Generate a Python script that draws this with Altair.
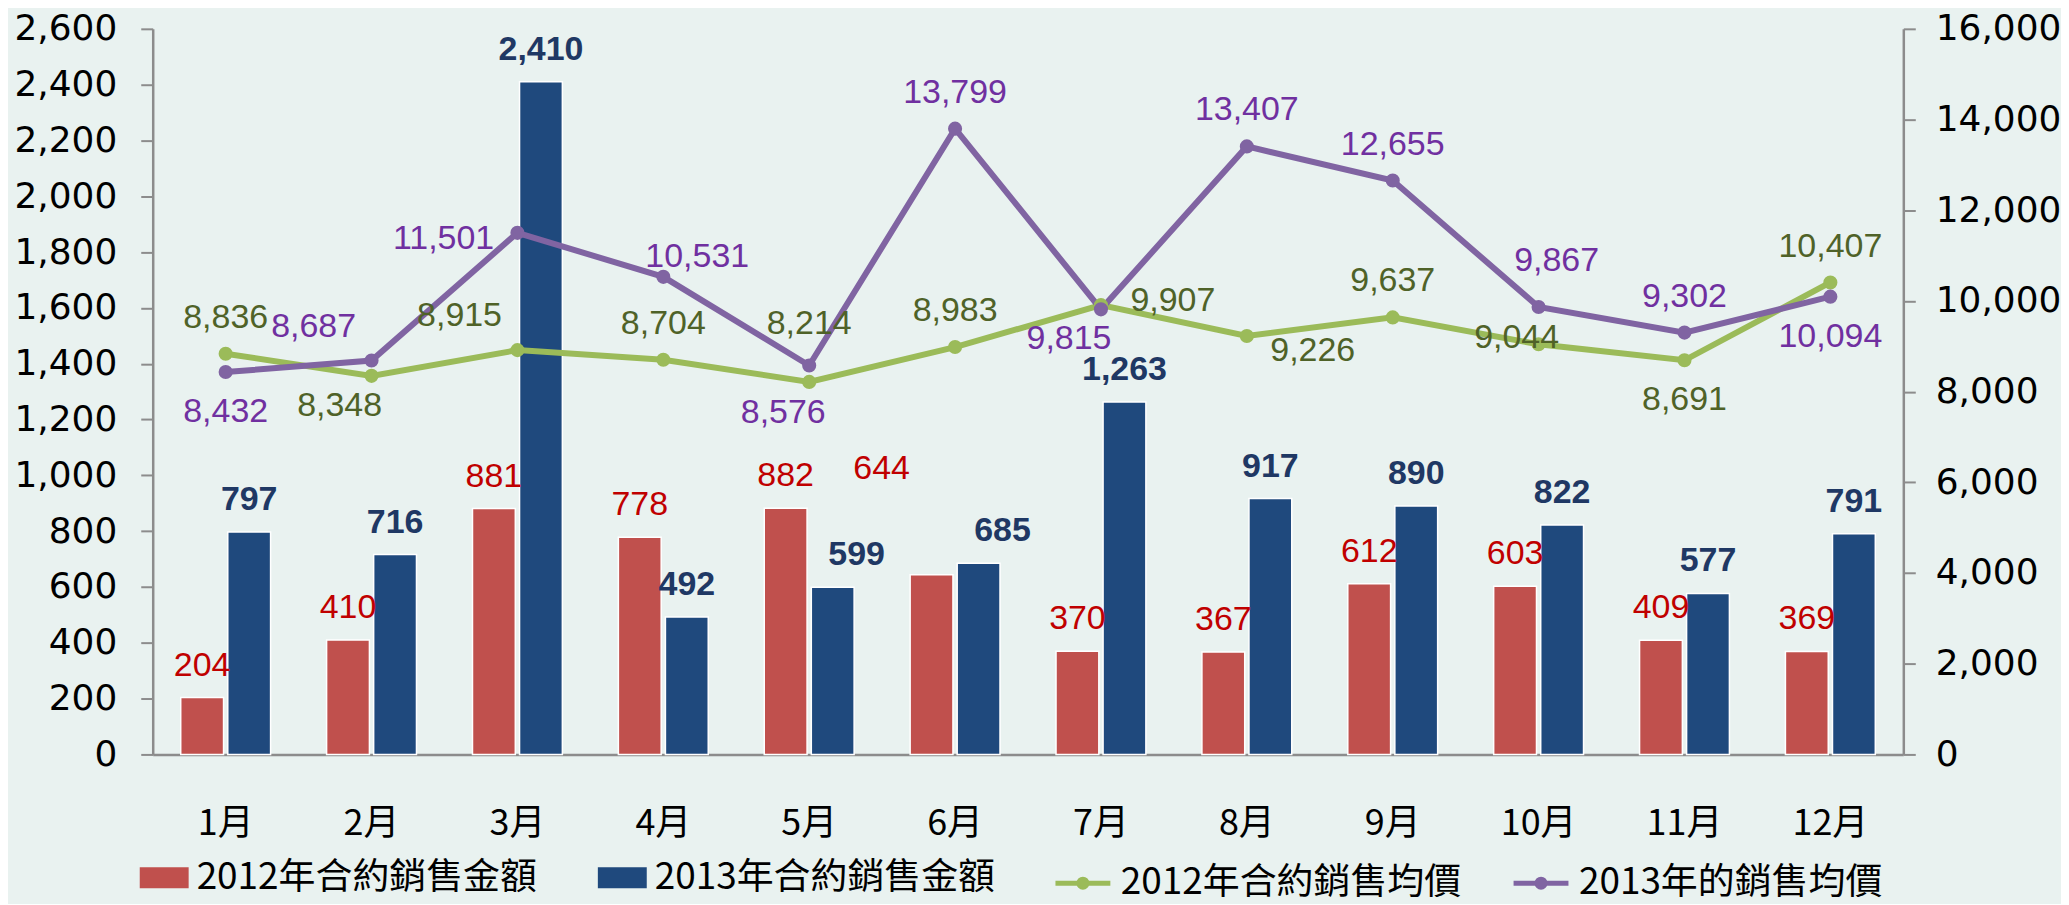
import altair as alt
import pandas as pd

# ---------------- data ----------------
months = ["1月", "2月", "3月", "4月", "5月", "6月", "7月", "8月", "9月", "10月", "11月", "12月"]
amount_2012 = [204, 410, 881, 778, 882, 644, 370, 367, 612, 603, 409, 369]
amount_2013 = [797, 716, 2410, 492, 599, 685, 1263, 917, 890, 822, 577, 791]
price_2012 = [8836, 8348, 8915, 8704, 8214, 8983, 9907, 9226, 9637, 9044, 8691, 10407]
price_2013 = [8432, 8687, 11501, 10531, 8576, 13799, 9815, 13407, 12655, 9867, 9302, 10094]
# label placement keywords (where each value label sits relative to its mark)
place_a2012 = ["C", "C", "C", "C", "C", "L", "C", "C", "C", "C", "C", "C"]
place_a2013 = ["C", "C", "C", "C", "R", "R", "C", "C", "C", "C", "C", "C"]
place_2012 = ["N", "SW", "NW", "N", "N2", "N", "E", "SE", "N", "Wn", "S", "N"]
place_2013 = ["S", "NW", "W", "NE", "SW2", "N", "SW", "N", "N", "Nr", "N", "S"]

S_A12 = "2012年合約銷售金額"
S_A13 = "2013年合約銷售金額"
S_P12 = "2012年合約銷售均價"
S_P13 = "2013年的銷售均價"

bars = pd.DataFrame({
    "month": months * 2,
    "series": [S_A12] * 12 + [S_A13] * 12,
    "value": amount_2012 + amount_2013,
    "place": place_a2012 + place_a2013,
})
lines = pd.DataFrame({
    "month": months * 2,
    "series": [S_P12] * 12 + [S_P13] * 12,
    "value": price_2012 + price_2013,
    "place": place_2012 + place_2013,
})

# ---------------- style ----------------
DATAF = "Liberation Sans, Arial, sans-serif"
CJK = "Noto Sans CJK TC"
AXISF = "DejaVu Sans"
GRAY = "#8c8c8c"
LABEL_FS = 34
LEG_Y = 826
BAR_OFFS = {"C": (0, -32), "L": (-50, -106), "R": (24, -32)}
OFFS = {
    "N": (0, -36), "N2": (0, -58), "Nr": (18, -46), "S": (0, 40), "E": (72, -4),
    "W": (-74, 6), "Wn": (-22, -6), "NE": (34, -20), "NW": (-58, -34),
    "SE": (66, 15), "SW": (-32, 30), "SW2": (-26, 48),
}
RECT = "M-1,-0.43H1V0.43H-1Z"
LINEDOT = "M-1,0H1M-0.145,0A0.145,0.145 0 1,0 0.145,0A0.145,0.145 0 1,0 -0.145,0"

x = alt.X(
    "month:N",
    scale=alt.Scale(domain=months, paddingInner=0.384, paddingOuter=0.192),
    axis=alt.Axis(title=None, labelAngle=0, labelFont=CJK, labelFontSize=36,
                  labelColor="#000", ticks=False, labelPadding=52,
                  domainColor=GRAY, domainWidth=2.5),
)
xo = alt.XOffset("series:N", scale=alt.Scale(domain=[S_A12, S_A13], paddingInner=0.09))
yl = alt.Y(
    "value:Q",
    scale=alt.Scale(domain=[0, 2600], nice=False),
    axis=alt.Axis(title=None, orient="left", values=list(range(0, 2601, 200)), format=",.0f",
                  grid=False, labelFont=AXISF, labelFontSize=36, labelColor="#000",
                  labelPadding=24, tickSize=12, tickWidth=2, tickColor=GRAY,
                  domainColor=GRAY, domainWidth=2.5),
)
yr = alt.Y(
    "value:Q",
    scale=alt.Scale(domain=[0, 16000], nice=False),
    axis=alt.Axis(title=None, orient="right", values=list(range(0, 16001, 2000)), format=",.0f",
                  grid=False, labelFont=AXISF, labelFontSize=36, labelColor="#000",
                  labelPadding=20, tickSize=12, tickWidth=2, tickColor=GRAY,
                  domainColor=GRAY, domainWidth=2.5),
)


def legend(lx, shape, size, sw):
    return alt.Legend(title=None, orient="none", legendX=lx, legendY=LEG_Y,
                      symbolType=shape, symbolSize=size, symbolStrokeWidth=sw,
                      labelFont=CJK, labelFontSize=37, labelColor="#000",
                      labelOffset=8, labelLimit=700)


def bar_layer(series, colour, lx):
    return alt.Chart(bars).transform_filter(alt.datum.series == series).mark_bar(
        stroke="white", strokeWidth=1.5
    ).encode(
        x=x, xOffset=xo, y=yl,
        color=alt.Color("series:N", scale=alt.Scale(domain=[series], range=[colour]),
                        legend=legend(lx, RECT, 2401, 0)),
    )


def bar_texts(series, colour, weight):
    out = []
    for key, (dx, dy) in BAR_OFFS.items():
        out.append(
            alt.Chart(bars).transform_filter(
                (alt.datum.series == series) & (alt.datum.place == key)
            ).mark_text(font=DATAF, fontSize=LABEL_FS, fontWeight=weight, color=colour,
                        dx=dx, dy=dy, baseline="middle")
            .encode(x=x, xOffset=xo, y=yl, text=alt.Text("value:Q", format=","))
        )
    return out


bar_group = alt.layer(
    bar_layer(S_A12, "#c0504d", -13),
    bar_layer(S_A13, "#1f497d", 446),
    *bar_texts(S_A12, "#c00000", "normal"),
    *bar_texts(S_A13, "#1f3864", "bold"),
).resolve_scale(color="independent")


def line_layer(series, colour, lx):
    return alt.Chart(lines).transform_filter(alt.datum.series == series).mark_line(
        strokeWidth=6
    ).encode(
        x=x, y=yr,
        color=alt.Color("series:N", scale=alt.Scale(domain=[series], range=[colour]),
                        legend=legend(lx, LINEDOT, 3025, 5)),
    )


def point_layer(series, colour):
    return alt.Chart(lines).transform_filter(alt.datum.series == series).mark_circle(
        size=200, opacity=1, color=colour
    ).encode(x=x, y=yr)


texts = []
for series, colour in [(S_P12, "#4f6228"), (S_P13, "#7030a0")]:
    for key, (dx, dy) in OFFS.items():
        texts.append(
            alt.Chart(lines).transform_filter(
                (alt.datum.series == series) & (alt.datum.place == key)
            ).mark_text(font=DATAF, fontSize=LABEL_FS, color=colour, dx=dx, dy=dy,
                        baseline="middle").encode(x=x, y=yr, text=alt.Text("value:Q", format=","))
        )

line_group = alt.layer(
    line_layer(S_P12, "#9bbb59", 902),
    line_layer(S_P13, "#8064a2", 1361),
    point_layer(S_P12, "#9bbb59"),
    point_layer(S_P13, "#8064a2"),
    *texts,
).resolve_scale(color="independent")

chart = alt.layer(bar_group, line_group).resolve_scale(
    y="independent", color="independent"
).properties(
    width=1754, height=727, background="#e9f2f0",
    padding={"left": 5, "top": 2, "right": 0, "bottom": 2},
).configure_view(stroke=None)

chart.save("out.html", embed_options={"renderer": "svg", "actions": False})
